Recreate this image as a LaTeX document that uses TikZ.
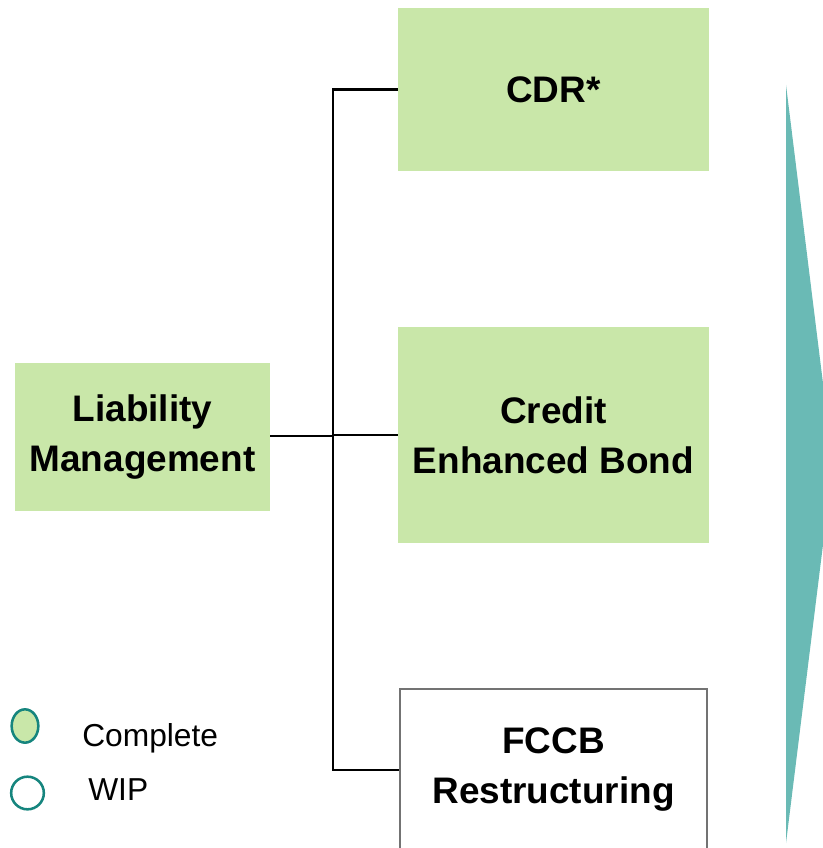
\documentclass[tikz,border=0pt]{standalone}
\usepackage{fontspec}
\setmainfont{Liberation Sans}
\usetikzlibrary{shapes.geometric}
\definecolor{donegreen}{HTML}{C9E7A9}
\definecolor{tealfill}{HTML}{6ABAB5}
\definecolor{tealline}{HTML}{16857E}
\begin{document}
\begin{tikzpicture}[
  x=0.75pt, y=-0.75pt,
  block/.style={rectangle, fill=donegreen, inner sep=0pt, align=center, font=\fontsize{27.7}{37.5}\selectfont\bfseries},
  wipblock/.style={block, fill=white, draw=black!55, line width=0.8pt},
  link/.style={draw=black, line width=1.6pt},
  keymark/.style={draw=tealline, line width=1.9pt, inner sep=0pt},
  legendtext/.style={anchor=west, inner sep=0pt, font=\fontsize{23.8}{28}\selectfont}
]
\clip (0,0) rectangle (823,848);

% big arrow on the right
\fill[tealfill] (786,85) -- (833,464) -- (786,843) -- cycle;

% boxes (sizes in pt)
\node[block, minimum width=191.25pt, minimum height=111pt] (liab) at (142.5,437) {Liability\\Management};
\node[block, minimum width=233.25pt, minimum height=122.25pt] (cdr) at (553.5,89.5) {CDR*};
\node[block, minimum width=233.25pt, minimum height=162pt] (ceb) at (553.5,435) {Credit\\Enhanced Bond};
\node[wipblock, minimum width=230.25pt, minimum height=121.5pt] (fccb) at (553.5,770) {FCCB\\Restructuring};

% tree connectors
\coordinate (split) at (333,436);
\draw[link] (liab.east |- split) -- (split);
\draw[link] (cdr.west) -| (split) |- (fccb.west);
\draw[link] (ceb.west) -- (ceb.west -| split);

% legend
\node[ellipse, keymark, fill=donegreen, minimum width=20pt, minimum height=25pt] (keydone) at (25,726) {};
\node[legendtext] (keydonetxt) at (82,738) {Complete};
\node[circle, keymark, minimum size=24.5pt] (keywip) at (27.5,793) {};
\node[legendtext] (keywiptxt) at (88,790) {WIP};
\end{tikzpicture}
\end{document}
